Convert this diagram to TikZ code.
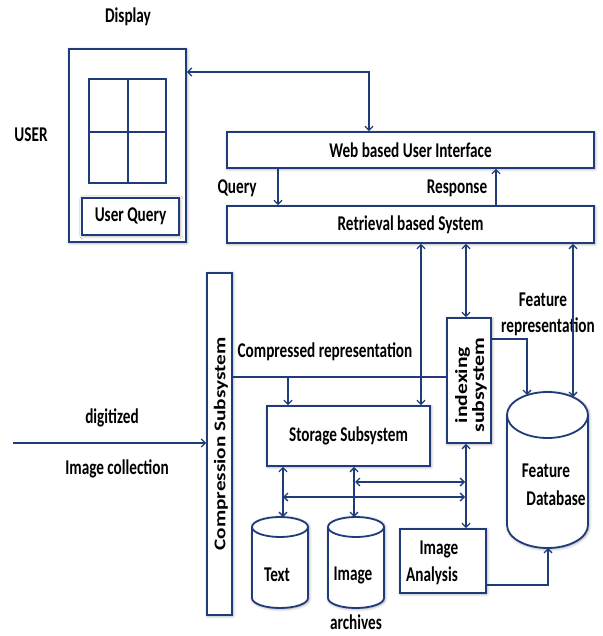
\documentclass[tikz,border=0pt]{standalone}
\usepackage{fontspec}
\setmainfont{Carlito}
\newfontfamily\cond{Carlito}[FakeStretch=0.725]
\usetikzlibrary{arrows.meta,shadows.blur,calc}
\definecolor{navy}{HTML}{1F3B7A}
\begin{document}
\begin{tikzpicture}[x=1pt,y=-1pt,
  lbl/.style={font=\cond\bfseries\fontsize{21}{24}\selectfont, text=black, inner sep=0pt},
  shad/.style={blur shadow={shadow xshift=0.8pt, shadow yshift=-0.8pt, shadow blur radius=3pt, shadow opacity=45, shadow blur steps=6}},
  box/.style={draw=navy, line width=1.8pt, fill=white, inner sep=0pt, shad,
    font=\cond\bfseries\fontsize{21}{24}\selectfont},
  cyl/.style={draw=navy, line width=1.8pt, fill=white, shad},
  arr/.style={draw=navy, line width=1.3pt, -{Straight Barb[length=4pt,width=8pt]}},
  dbl/.style={draw=navy, line width=1.3pt, {Straight Barb[length=4pt,width=8pt]}-{Straight Barb[length=4pt,width=8pt]}},
  ln/.style={draw=navy, line width=1.3pt}]
\useasboundingbox (0,0) rectangle (602,636);

% Display
\node[box, minimum width=117pt, minimum height=193pt] (disp) at (127.5,145.5) {};
\node[draw=navy, line width=1.6pt, minimum width=77pt, minimum height=104pt, inner sep=0pt] (grid) at (127.5,131) {};
\draw[ln] (grid.north -| 128,0) -- (grid.south -| 128,0);
\draw[ln] (grid.west |- 0,132) -- (grid.east |- 0,132);
\node[box, minimum width=97pt, minimum height=37pt] (uq) at (130.5,216.5) {User Query};
\node[lbl] (tdisp) at (128,17) {Display};
\node[lbl] (tuser) at (31,135) {USER};

% Web UI and retrieval
\node[box, minimum width=367pt, minimum height=36pt] (web) at (410.5,150) {Web based User Interface};
\node[box, minimum width=367pt, minimum height=37pt] (ret) at (410.5,224.5) {Retrieval based System};
\node[lbl] (tq) at (237,188) {Query};
\node[lbl] (tr) at (457,188) {Response};

% Compression
\node[box, minimum width=25pt, minimum height=342pt] (comp) at (219.5,444) {};
\node[rotate=90, inner sep=0pt] (tcomp) at (221,444) {\resizebox{213pt}{11.5pt}{\bfseries Compression Subsystem}};

% Storage
\node[box, minimum width=163pt, minimum height=60pt] (stor) at (348.5,436) {Storage Subsystem};

% Indexing
\node[box, minimum width=44pt, minimum height=125pt] (idx) at (469,380.5) {};
\node[rotate=90, inner sep=0pt, align=center] (tidx) at (471,385)
  {\resizebox{76pt}{12pt}{\bfseries indexing}\\[1pt]\resizebox{95pt}{12pt}{\bfseries subsystem}};

% Image analysis
\node[box, minimum width=86pt, minimum height=64pt] (ia) at (443,561) {};
\node[lbl] (tia1) at (439,549) {Image};
\node[lbl] (tia2) at (432,576) {Analysis};

% Feature database cylinder
\path[cyl] (507,415) -- (507,525) arc[start angle=180, end angle=0, x radius=40.5, y radius=23]
  -- (588,415) arc[start angle=0, end angle=-180, x radius=40.5, y radius=23] -- cycle;
\draw[ln, line width=1.8pt] (507,415) arc[start angle=180, end angle=0, x radius=40.5, y radius=23];
\node[lbl] (tfd1) at (546,471) {Feature};
\node[lbl] (tfd2) at (556,498) {Database};

% Text cylinder
\path[cyl] (252,527) -- (252,598) arc[start angle=180, end angle=0, x radius=28, y radius=10]
  -- (308,527) arc[start angle=0, end angle=-180, x radius=28, y radius=10] -- cycle;
\draw[ln, line width=1.8pt] (252,527) arc[start angle=180, end angle=0, x radius=28, y radius=10];
\node[lbl] (ttext) at (277,575) {Text};

% Image cylinder
\path[cyl] (328,527) -- (328,598) arc[start angle=180, end angle=0, x radius=28, y radius=10]
  -- (384,527) arc[start angle=0, end angle=-180, x radius=28, y radius=10] -- cycle;
\draw[ln, line width=1.8pt] (328,527) arc[start angle=180, end angle=0, x radius=28, y radius=10];
\node[lbl] (timg) at (353,575) {Image};
\node[lbl] (tarch) at (356,622) {archives};

% other labels
\node[lbl] (tcr) at (325,352) {Compressed representation};
\node[lbl] (tdig) at (112,418) {digitized};
\node[lbl] (tic) at (117,469) {Image collection};
\node[lbl] (tfr1) at (543,300) {Feature};
\node[lbl] (tfr2) at (548,327) {representation};

% coordinates
\coordinate (src) at (13,443);
\coordinate (fdtop) at (573,397);
\coordinate (fdidx) at (527,395);
\coordinate (fdbot) at (548,548);
\coordinate (texttop) at (283,517);
\coordinate (imgtop) at (354,517);

% connectors
\draw[dbl] (disp.east |- 0,72) -| (web.north -| 369,0);
\draw[arr] (web.south -| 278,0) -- (ret.north -| 278,0);
\draw[arr] (ret.north -| 496,0) -- (web.south -| 496,0);
\draw[dbl] (ret.south -| 421,0) -- (stor.north -| 421,0);
\draw[dbl] (ret.south -| 466,0) -- (idx.north -| 466,0);
\draw[dbl] (ret.south -| fdtop) -- (fdtop);
\draw[arr] (src) -- (comp.west |- src);
\draw[ln] (comp.east |- 0,377) -- (idx.west |- 0,377);
\draw[arr] (288,377) -- (stor.north -| 288,0);
\draw[arr] (idx.east |- 0,339) -| (fdidx);
\draw[dbl] (stor.south -| texttop) -- (texttop);
\draw[dbl] (stor.south -| imgtop) -- (imgtop);
\draw[dbl] (355,482) -- (465,482);
\draw[dbl] (283,497) -- (465,497);
\draw[dbl] (idx.south -| 466,0) -- (ia.north -| 466,0);
\draw[arr] (ia.east |- 0,585) -| (fdbot);
\end{tikzpicture}
\end{document}
